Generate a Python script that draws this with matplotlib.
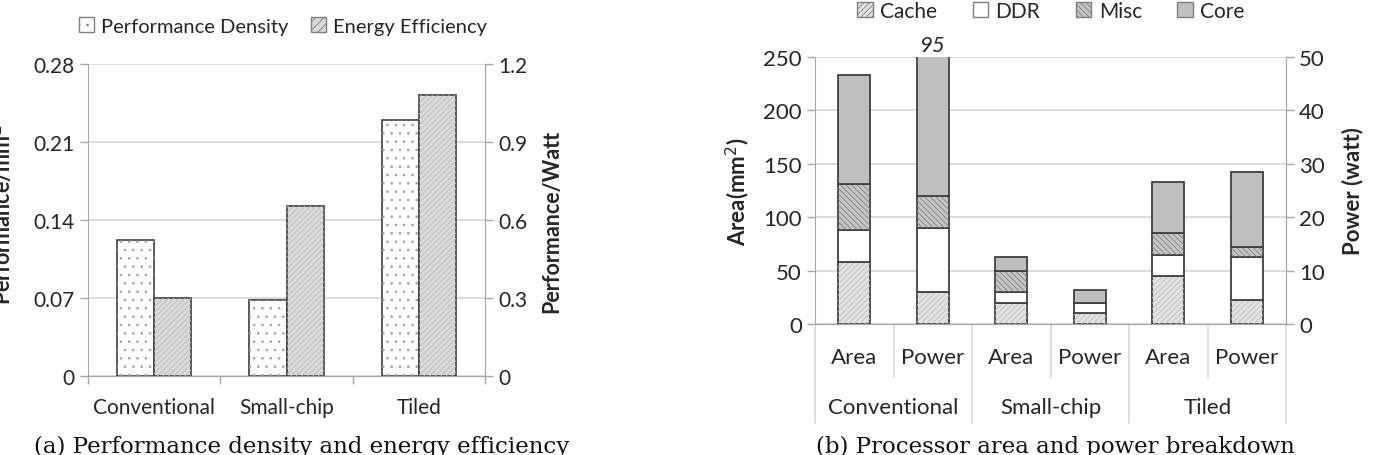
import numpy as np
import matplotlib.pyplot as plt
from matplotlib.patches import Patch

plt.rcParams['font.family'] = ['Lato', 'DejaVu Sans']
plt.rcParams['hatch.linewidth'] = 0.6

# --- (a) performance density / energy efficiency
categories = ['Conventional', 'Small-chip', 'Tiled']
perf_density = [0.122, 0.068, 0.230]     # left axis, perf/mm^2
energy_eff = [0.30, 0.655, 1.08]         # right axis, perf/watt

# --- (b) area and power breakdown
groups = ['Conventional', 'Small-chip', 'Tiled']
sub_labels = ['Area', 'Power']
parts = ['Cache', 'DDR', 'Misc', 'Core']
area_cache = [58, 20, 45]
area_ddr = [30, 10, 20]
area_misc = [43, 20, 20]
area_core = [102, 12.5, 47.5]
power_cache = [6, 2, 4.5]
power_ddr = [12, 2, 8]
power_misc = [6, 0, 2]
power_core = [71, 2.4, 14]

grid_c = '#d9d9d9'
spine_c = '#a6a6a6'
edge_c = '#404040'
txt_c = '#262626'

styles = {
    'Cache': dict(facecolor='#e3e3e3', hatch='//////', ec_hatch='#bcbcbc'),
    'DDR': dict(facecolor='white', hatch=None, ec_hatch=None),
    'Misc': dict(facecolor='#c6c6c6', hatch='\\\\\\\\\\\\', ec_hatch='#808080'),
    'Core': dict(facecolor='#bfbfbf', hatch=None, ec_hatch=None),
}

fig = plt.figure(figsize=(13.86, 4.56), dpi=100)


def style_axes(ax, ax2, fs):
    for a in (ax, ax2):
        for s in a.spines.values():
            s.set_color(spine_c)
        a.spines['top'].set_visible(False)
        a.tick_params(colors=txt_c, labelsize=fs, length=6, width=1, color=spine_c)
    ax2.spines['left'].set_visible(False)
    ax.set_axisbelow(True)
    ax.yaxis.grid(True, color=grid_c, lw=1.3)


# ================= (a)
fa = 15
ax = fig.add_axes([88 / 1386, 1 - 377 / 456, 397 / 1386, 312 / 456])
ax2 = ax.twinx()
x = np.arange(len(categories))
w = 0.28
ax.bar(x - w / 2, perf_density, w, facecolor='white', edgecolor=edge_c, lw=1.2, zorder=3)
ax.bar(x - w / 2, perf_density, w, facecolor='none', edgecolor='#a0a0a0', hatch='..', lw=0, zorder=3)
ax2.bar(x + w / 2, energy_eff, w, facecolor='#dadada', edgecolor=edge_c, lw=1.2, zorder=3)
ax2.bar(x + w / 2, energy_eff, w, facecolor='none', edgecolor='#bababa', hatch='//////', lw=0, zorder=3)
ax.set_xlim(-0.5, 2.5)
ax.set_ylim(0, 0.28)
ax.set_yticks([0, 0.07, 0.14, 0.21, 0.28])
ax.set_yticklabels(['0', '0.07', '0.14', '0.21', '0.28'])
ax2.set_ylim(0, 1.2)
ax2.set_yticks([0, 0.3, 0.6, 0.9, 1.2])
ax2.set_yticklabels(['0', '0.3', '0.6', '0.9', '1.2'])
ax.set_xticks([-0.5, 0.5, 1.5, 2.5])
ax.set_xticklabels([])
style_axes(ax, ax2, fa)
for i, c in enumerate(categories):
    ax.text(i, -0.1, c, transform=ax.get_xaxis_transform(), ha='center', va='center',
            fontsize=fa, color=txt_c)
ax2.set_ylabel('Performance/Watt', fontsize=15.5, fontweight='bold', color=txt_c, labelpad=10)
fig.text(2 / 1386, 1 - 215 / 456, 'Performance/mm$^2$', rotation=90, ha='center', va='center',
         fontsize=15.5, fontweight='bold', color=txt_c)
leg_a = [Patch(facecolor='white', edgecolor='#7f7f7f', hatch='..', label='Performance Density'),
         Patch(facecolor='#dadada', edgecolor='#7f7f7f', hatch='////', label='Energy Efficiency')]
fig.legend(handles=leg_a, loc='center', bbox_to_anchor=(283 / 1386, 1 - 27 / 456), ncol=2,
           frameon=False, fontsize=14.5, handlelength=0.75, handleheight=0.75, handletextpad=0.35,
           columnspacing=1.1, labelcolor=txt_c)
fig.text(302 / 1386, 1 - 436 / 456, '(a) Performance density and energy efficiency',
         family='DejaVu Serif', fontsize=16.5, ha='center', va='top', color='#111111')

# ================= (b)
fb = 16
bx = fig.add_axes([815 / 1386, 1 - 325 / 456, 471 / 1386, 267 / 456])
bx2 = bx.twinx()
bw = 0.41
pos_area = np.arange(len(groups)) * 2
pos_power = pos_area + 1
area_vals = [area_cache, area_ddr, area_misc, area_core]
power_vals = [power_cache, power_ddr, power_misc, power_core]
b_area = np.zeros(len(groups))
b_power = np.zeros(len(groups))
for name, av, pv in zip(parts, area_vals, power_vals):
    st = styles[name]
    bx.bar(pos_area, av, bw, bottom=b_area, facecolor=st['facecolor'], edgecolor=edge_c, lw=1.3, zorder=3)
    bx2.bar(pos_power, pv, bw, bottom=b_power, facecolor=st['facecolor'], edgecolor=edge_c, lw=1.3, zorder=3)
    if st['hatch']:
        bx.bar(pos_area, av, bw, bottom=b_area, facecolor='none', edgecolor=st['ec_hatch'],
               hatch=st['hatch'], lw=0, zorder=3)
        bx2.bar(pos_power, pv, bw, bottom=b_power, facecolor='none', edgecolor=st['ec_hatch'],
                hatch=st['hatch'], lw=0, zorder=3)
    b_area += np.array(av)
    b_power += np.array(pv)

bx.set_xlim(-0.5, 5.5)
bx.set_ylim(0, 250)
bx.set_yticks([0, 50, 100, 150, 200, 250])
bx2.set_ylim(0, 50)
bx2.set_yticks([0, 10, 20, 30, 40, 50])
bx.set_xticks([])
style_axes(bx, bx2, fb)
bx.set_ylabel('Area(mm$^2$)', fontsize=16, fontweight='bold', color=txt_c, labelpad=8)
bx2.set_ylabel('Power (watt)', fontsize=16, fontweight='bold', color=txt_c, labelpad=12)

# total of the clipped power bar
bx2.text(pos_power[0], 50.3, f'{b_power[0]:.0f}', ha='center', va='bottom', fontsize=fb,
         style='italic', color=txt_c)

# two-level category axis
tr = bx.get_xaxis_transform()
for i, g in enumerate(groups):
    for j, s in enumerate(sub_labels):
        bx.text(2 * i + j, -0.125, s, transform=tr, ha='center', va='center', fontsize=fb, color=txt_c)
    bx.text(2 * i + 0.5, -0.31, g, transform=tr, ha='center', va='center', fontsize=fb, color=txt_c)
    bx.plot([2 * i + 0.5] * 2, [0, -0.2], transform=tr, color=grid_c, lw=1.2, clip_on=False)
for k in range(len(groups) + 1):
    bx.plot([2 * k - 0.5] * 2, [0, -0.37], transform=tr, color=grid_c, lw=1.2, clip_on=False)

leg_b = [Patch(facecolor=styles[n]['facecolor'], edgecolor='#7f7f7f',
               hatch=styles[n]['hatch'], label=n) for n in parts]
fig.legend(handles=leg_b, loc='center', bbox_to_anchor=(1051 / 1386, 1 - 12 / 456), ncol=4,
           frameon=False, fontsize=15, handlelength=0.75, handleheight=0.75, handletextpad=0.35,
           columnspacing=1.7, labelcolor=txt_c)
fig.text(1055 / 1386, 1 - 436 / 456, '(b) Processor area and power breakdown',
         family='DejaVu Serif', fontsize=16.5, ha='center', va='top', color='#111111')

fig.savefig('out.png', dpi=100)
